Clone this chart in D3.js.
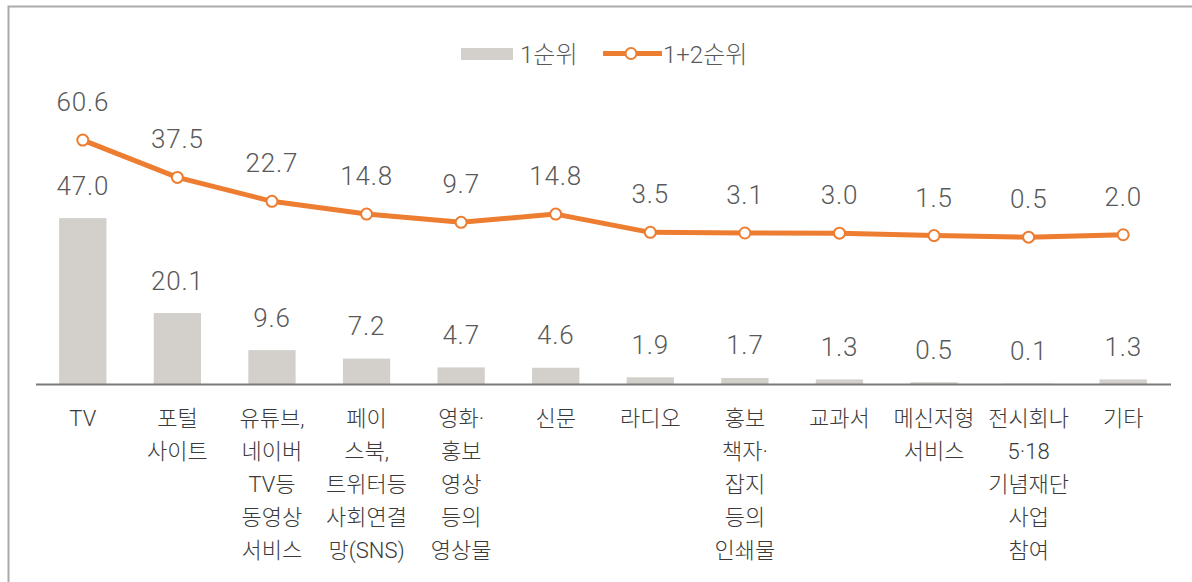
<!DOCTYPE html>
<html>
<head>
<meta charset="utf-8">
<script src="https://cdn.jsdelivr.net/npm/d3@7"></script>
<style>
  html, body { margin: 0; padding: 0; background: #fff; }
  svg { display: block; }
</style>
</head>
<body>
<script>
const width = 1192;
const height = 582;

// categories (line-broken as in the picture)
const categories = [
  ["TV"],
  ["포털", "사이트"],
  ["유튜브,", "네이버", "TV등", "동영상", "서비스"],
  ["페이", "스북,", "트위터등", "사회연결", "망(SNS)"],
  ["영화·", "홍보", "영상", "등의", "영상물"],
  ["신문"],
  ["라디오"],
  ["홍보", "책자·", "잡지", "등의", "인쇄물"],
  ["교과서"],
  ["메신저형", "서비스"],
  ["전시회나", "5·18", "기념재단", "사업", "참여"],
  ["기타"]
];
const first = [47.0, 20.1, 9.6, 7.2, 4.7, 4.6, 1.9, 1.7, 1.3, 0.5, 0.1, 1.3];
const firstSecond = [60.6, 37.5, 22.7, 14.8, 9.7, 14.8, 3.5, 3.1, 3.0, 1.5, 0.5, 2.0];
const seriesNames = ["1순위", "1+2순위"];

const barColor = "#d3d0cb";
const lineColor = "#ed7d31";
const valueFont = "Roboto, 'Noto Sans', sans-serif";
const krFont = "Roboto, 'Noto Sans CJK KR', sans-serif";

const keys = categories.map((c, i) => "c" + i);

const svg = d3.select("body").append("svg")
    .attr("width", width)
    .attr("height", height);

// frame (top + left edge visible)
svg.append("path")
    .attr("d", "M8.5,600 L8.5,6.5 L1200,6.5")
    .attr("fill", "none")
    .attr("stroke", "#ababab")
    .attr("stroke-width", 2);

const x = d3.scaleBand()
    .domain(keys)
    .range([35.5, 1170.5])
    .paddingInner(0.5)
    .paddingOuter(0.25);

const baseline = 384;
const y = d3.scaleLinear().domain([0, 50]).range([baseline, baseline - 176.5]);
const y2 = d3.scaleLinear().domain([0, 70]).range([238, 238 - 113.1]);

// bars
svg.append("g").selectAll("rect")
  .data(first)
  .join("rect")
    .attr("x", (d, i) => x(keys[i]))
    .attr("y", d => y(d))
    .attr("width", x.bandwidth())
    .attr("height", d => baseline - y(d))
    .attr("fill", barColor);

svg.append("g").selectAll("text")
  .data(first)
  .join("text")
    .attr("x", (d, i) => x(keys[i]) + x.bandwidth() / 2)
    .attr("y", d => y(d) - 23.5)
    .attr("text-anchor", "middle")
    .attr("font-family", valueFont)
    .attr("font-weight", 300)
    .attr("font-size", 26)
    .attr("letter-spacing", 0.8)
    .attr("fill", "#595959")
    .text(d => d.toFixed(1));

// x axis
const xAxis = svg.append("g")
    .attr("transform", `translate(0,${baseline})`)
    .call(d3.axisBottom(x).tickSize(0).tickFormat(""));
xAxis.select(".domain")
    .attr("stroke", "#7a7a7a")
    .attr("stroke-width", 2);

xAxis.selectAll(".tick").append("text")
    .attr("fill", "#3a3a3a")
    .attr("font-family", krFont)
    .attr("font-weight", 300)
    .attr("font-size", 22)
    .attr("text-anchor", "middle")
    .each(function(d, i) {
      const t = d3.select(this);
      categories[i].forEach((line, j) => {
        t.append("tspan")
          .attr("x", 0)
          .attr("y", 42 + j * 33)
          .text(line);
      });
    });

// line
const line = d3.line()
    .x((d, i) => x(keys[i]) + x.bandwidth() / 2)
    .y(d => y2(d));

svg.append("path")
    .datum(firstSecond)
    .attr("d", line)
    .attr("fill", "none")
    .attr("stroke", lineColor)
    .attr("stroke-width", 5)
    .attr("stroke-linejoin", "round");

svg.append("g").selectAll("circle")
  .data(firstSecond)
  .join("circle")
    .attr("cx", (d, i) => x(keys[i]) + x.bandwidth() / 2)
    .attr("cy", d => y2(d))
    .attr("r", 5.5)
    .attr("fill", "#fff")
    .attr("stroke", lineColor)
    .attr("stroke-width", 2);

svg.append("g").selectAll("text")
  .data(firstSecond)
  .join("text")
    .attr("x", (d, i) => x(keys[i]) + x.bandwidth() / 2)
    .attr("y", d => y2(d) - 29)
    .attr("text-anchor", "middle")
    .attr("font-family", valueFont)
    .attr("font-weight", 300)
    .attr("font-size", 26)
    .attr("letter-spacing", 0.8)
    .attr("fill", "#595959")
    .text(d => d.toFixed(1));

// legend
const legend = svg.append("g")
    .attr("font-family", krFont)
    .attr("font-weight", 300)
    .attr("font-size", 24)
    .attr("fill", "#595959");
legend.append("rect")
    .attr("x", 461).attr("y", 48)
    .attr("width", 52).attr("height", 12)
    .attr("fill", barColor);
legend.append("text")
    .attr("x", 520).attr("y", 63)
    .text(seriesNames[0]);

legend.append("line")
    .attr("x1", 603).attr("x2", 662)
    .attr("y1", 53.5).attr("y2", 53.5)
    .attr("stroke", lineColor)
    .attr("stroke-width", 5);
legend.append("circle")
    .attr("cx", 631).attr("cy", 53.5)
    .attr("r", 5.5)
    .attr("fill", "#fff")
    .attr("stroke", lineColor)
    .attr("stroke-width", 2);
legend.append("text")
    .attr("x", 663).attr("y", 63)
    .text(seriesNames[1]);
</script>
</body>
</html>
